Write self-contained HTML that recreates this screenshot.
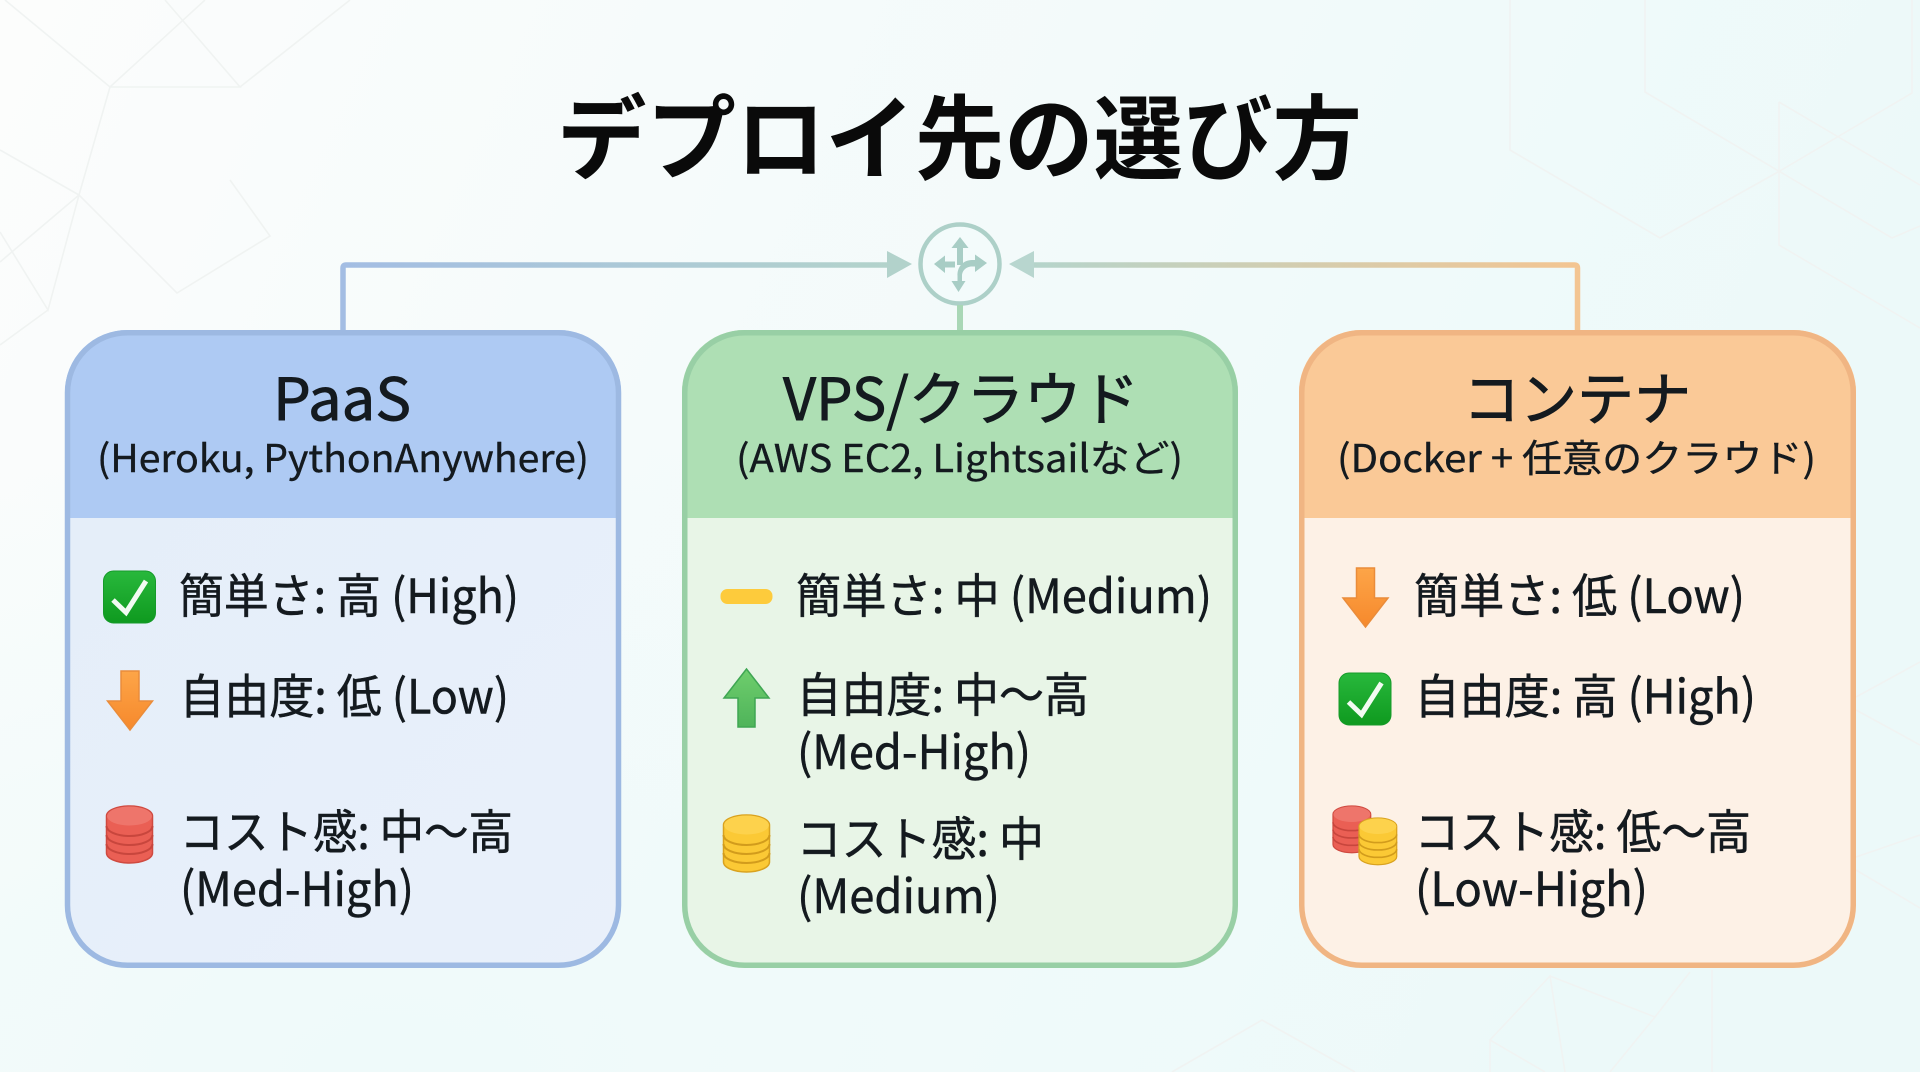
<!DOCTYPE html>
<html lang="ja"><head><meta charset="utf-8"><title>デプロイ先の選び方</title>
<style>
html,body{margin:0;padding:0;width:1920px;height:1072px;overflow:hidden;background:#f3fafa}
svg{display:block;position:absolute;left:0;top:0}
text{font-family:"Noto Sans CJK JP","Liberation Sans",sans-serif;fill:#141a1f}
.t{font-size:92px;font-weight:700;fill:#0a0a0a}
.h{font-size:58px;font-weight:400;stroke:#141a1f;stroke-width:.9}
.s{font-size:38px;stroke:#141a1f;stroke-width:.4}
.i{font-size:47px;stroke:#141a1f;stroke-width:.5}
</style></head><body>
<svg width="1920" height="1072" viewBox="0 0 1920 1072" xmlns="http://www.w3.org/2000/svg">
<defs>
<linearGradient id="bg" x1="0" y1="0" x2="1" y2="0.25"><stop offset="0" stop-color="#fcfdfc"/><stop offset=".35" stop-color="#f6fbfb"/><stop offset="1" stop-color="#ecf9f9"/></linearGradient>
<radialGradient id="bg2" cx="0.2" cy="1" r="0.6"><stop offset="0" stop-color="#eefafa" stop-opacity=".9"/><stop offset="1" stop-color="#eefafa" stop-opacity="0"/></radialGradient>
<linearGradient id="ln1" gradientUnits="userSpaceOnUse" x1="343" y1="0" x2="890" y2="0"><stop offset="0" stop-color="#a3bde3"/><stop offset="1" stop-color="#b3d3cb"/></linearGradient>
<linearGradient id="ln2" gradientUnits="userSpaceOnUse" x1="1577" y1="0" x2="1032" y2="0"><stop offset="0" stop-color="#f3c592"/><stop offset="1" stop-color="#b5d4cb"/></linearGradient>
<linearGradient id="ora" x1="0" y1="0" x2="0" y2="1"><stop offset="0" stop-color="#fda548"/><stop offset="1" stop-color="#f6892c"/></linearGradient>
<linearGradient id="grn" x1="0" y1="0" x2="0" y2="1"><stop offset="0" stop-color="#6fce6d"/><stop offset="1" stop-color="#4fb45a"/></linearGradient>
<linearGradient id="chk" x1="0" y1="0" x2="0" y2="1"><stop offset="0" stop-color="#28b83c"/><stop offset="1" stop-color="#0f9a1f"/></linearGradient>
<linearGradient id="bd1" x1="0" y1="0" x2="1" y2="1"><stop offset="0" stop-color="#e4eef9"/><stop offset="1" stop-color="#e9f0fa"/></linearGradient>
<clipPath id="c1"><rect x="65" y="330" width="556" height="638" rx="62"/></clipPath>
<clipPath id="c2"><rect x="682" y="330" width="556" height="638" rx="62"/></clipPath>
<clipPath id="c3"><rect x="1299" y="330" width="557" height="638" rx="62"/></clipPath>
<g id="check"><rect width="52" height="52" rx="10" fill="url(#chk)" stroke="#169a2a" stroke-width="1"/><path d="M9.5 29 L22.5 41.5 L42.5 10" fill="none" stroke="#f2fbf2" stroke-width="5"/></g>
<path id="dn" d="M14 0 H32 V30 H45.5 L23 59 L0.5 30 H14 Z" fill="url(#ora)" stroke="#ea8c3a" stroke-width="1.5"/>
<g id="redc"><path d="M0 10 A23 10 0 0 1 46 10 V47 A23 10 0 0 1 0 47 Z" fill="#ea5f54" stroke="#cf4a40" stroke-width="1.5"/><ellipse cx="23" cy="10" rx="22.5" ry="9.5" fill="#ee756b"/><path d="M0 20 A23 10 0 0 0 46 20 M0 29 A23 10 0 0 0 46 29 M0 38 A23 10 0 0 0 46 38" fill="none" stroke="#c8463d" stroke-width="2"/></g>
<g id="yelc"><path d="M0 10 A23 10 0 0 1 46 10 V47 A23 10 0 0 1 0 47 Z" fill="#fbc935" stroke="#d9a21f" stroke-width="1.5"/><ellipse cx="23" cy="10" rx="22.5" ry="9.5" fill="#fdd24c"/><path d="M0 20 A23 10 0 0 0 46 20 M0 29 A23 10 0 0 0 46 29 M0 38 A23 10 0 0 0 46 38" fill="none" stroke="#d29c1c" stroke-width="2"/></g>
</defs>
<rect width="1920" height="1072" fill="url(#bg)"/>
<rect width="1920" height="1072" fill="url(#bg2)"/>

<!-- background lines -->
<g fill="none" stroke="#f0f3f2" stroke-width="1.6">
<path d="M5 0 L110 87 L205 0 M165 0 L240 87 H110 M240 87 L350 0 M110 87 L79 195 L0 150 M79 195 L0 262 M79 195 L48 310 L0 232 M48 310 L0 345 M79 195 L177 293 L270 236 L230 180"/>
<path d="M1510 0 V150 L1660 238 L1778 172 L1912 93 V0 M1645 0 V92 L1892 238 L1920 226 M1779 102 L1920 185 M1779 102 V245 L1920 328"/>
<path d="M1856 697 L1920 662 M1856 710 L1920 745 M1856 857 L1920 835 M1856 870 L1920 908"/>
<path d="M1490 1072 V1040 L1550 976 L1565 1072 M1550 976 L1655 1017 M1690 972 L1655 1017 L1610 1072 M1490 1040 L1545 1072 M1712 970 V1072 M1172 1072 L1262 1020 L1355 1072"/>
</g>

<!-- title -->
<text class="t" x="557" y="172" textLength="805" lengthAdjust="spacingAndGlyphs">デプロイ先の選び方</text>

<!-- connectors -->
<path d="M343 331 V268 Q343 265 346 265 H890" fill="none" stroke="url(#ln1)" stroke-width="5.5"/>
<path d="M1577.5 331 V268 Q1577.5 265 1574.5 265 H1032" fill="none" stroke="url(#ln2)" stroke-width="5.5"/>
<path d="M912 264 L887 251 V278 Z" fill="#b2d2cb"/>
<path d="M1009 264 L1034 251 V278 Z" fill="#b8d6cf"/>
<circle cx="960" cy="264" r="39.5" fill="#f3fbfb" stroke="#add0c8" stroke-width="4.5"/>
<rect x="957" y="305" width="6" height="27" fill="#a9d7b6"/>
<g fill="#a8cdc5" stroke="none">
<path d="M960 237 L968.5 248 H963 V265 H957 V248 H951.5 Z"/>
<path d="M934 264 L945 255.5 V261.5 H955 V267.5 H945 V273 Z"/>
<path d="M987 263 L975 254.5 V260 H972 C963 260 957 267 957.5 276 L957.5 281 H951.5 L958.5 292 L965.5 281 H962 V276 C962 270 967 266.5 972 266.5 H975 V272 Z"/>
</g>

<!-- card 1 -->
<g clip-path="url(#c1)"><rect x="65" y="330" width="556" height="638" fill="url(#bd1)"/><rect x="65" y="330" width="556" height="188" fill="#aecaf3"/></g>
<rect x="67.5" y="332.75" width="551" height="632.5" rx="60" fill="none" stroke="#9db9e2" stroke-width="5.5"/>
<!-- card 2 -->
<g clip-path="url(#c2)"><rect x="682" y="330" width="556" height="638" fill="#e8f5e7"/><rect x="682" y="330" width="556" height="188" fill="#aedfb4"/></g>
<rect x="684.75" y="332.75" width="550.5" height="632.5" rx="60" fill="none" stroke="#98cfa5" stroke-width="5.5"/>
<!-- card 3 -->
<g clip-path="url(#c3)"><rect x="1299" y="330" width="557" height="638" fill="#fdf1e6"/><rect x="1299" y="330" width="557" height="188" fill="#fac997"/></g>
<rect x="1301.75" y="332.75" width="551.5" height="632.5" rx="60" fill="none" stroke="#f0b583" stroke-width="5.5"/>

<!-- headers -->
<text class="h" x="273" y="420" textLength="138" lengthAdjust="spacingAndGlyphs">PaaS</text>
<text class="s" x="97" y="472" textLength="492" lengthAdjust="spacingAndGlyphs">(Heroku, PythonAnywhere)</text>
<text class="h" x="783" y="420" textLength="356" lengthAdjust="spacingAndGlyphs">VPS/クラウド</text>
<text class="s" x="736" y="472" textLength="447" lengthAdjust="spacingAndGlyphs">(AWS EC2, Lightsailなど)</text>
<text class="h" x="1463" y="420" textLength="228" lengthAdjust="spacingAndGlyphs">コンテナ</text>
<text class="s" x="1337" y="472" textLength="479" lengthAdjust="spacingAndGlyphs">(Docker + 任意のクラウド)</text>

<!-- card 1 items -->
<use href="#check" x="103.5" y="571"/>
<text class="i" x="179" y="613" textLength="340" lengthAdjust="spacingAndGlyphs">簡単さ: 高 (High)</text>
<use href="#dn" x="107" y="671"/>
<text class="i" x="179.5" y="713.5" textLength="329.5" lengthAdjust="spacingAndGlyphs">自由度: 低 (Low)</text>
<use href="#redc" x="106.5" y="806"/>
<text class="i" x="179.5" y="849" textLength="333.5" lengthAdjust="spacingAndGlyphs">コスト感: 中～高</text>
<text class="i" x="180" y="906" textLength="234" lengthAdjust="spacingAndGlyphs">(Med-High)</text>

<!-- card 2 items -->
<rect x="720.5" y="589" width="52" height="15" rx="7" fill="#fdcb3c"/>
<text class="i" x="796" y="613" textLength="416" lengthAdjust="spacingAndGlyphs">簡単さ: 中 (Medium)</text>
<path d="M738 727 H755 V698 H769 L746.5 669 L724 698 H738 Z" fill="url(#grn)" stroke="#3fa653" stroke-width="1.5"/>
<text class="i" x="796.5" y="712" textLength="292.5" lengthAdjust="spacingAndGlyphs">自由度: 中～高</text>
<text class="i" x="797" y="769" textLength="234" lengthAdjust="spacingAndGlyphs">(Med-High)</text>
<use href="#yelc" x="723.5" y="815"/>
<text class="i" x="796.5" y="856" textLength="247.5" lengthAdjust="spacingAndGlyphs">コスト感: 中</text>
<text class="i" x="797" y="913" textLength="203" lengthAdjust="spacingAndGlyphs">(Medium)</text>

<!-- card 3 items -->
<use href="#dn" x="1342.5" y="568"/>
<text class="i" x="1414" y="613" textLength="331" lengthAdjust="spacingAndGlyphs">簡単さ: 低 (Low)</text>
<use href="#check" x="1339" y="673"/>
<text class="i" x="1414.5" y="713.5" textLength="341.5" lengthAdjust="spacingAndGlyphs">自由度: 高 (High)</text>
<use href="#redc" transform="translate(1333 806) scale(.82 .82)"/>
<use href="#yelc" transform="translate(1359 818) scale(.82 .82)"/>
<text class="i" x="1414.5" y="849" textLength="336.5" lengthAdjust="spacingAndGlyphs">コスト感: 低～高</text>
<text class="i" x="1415" y="906" textLength="233" lengthAdjust="spacingAndGlyphs">(Low-High)</text>
</svg>
</body></html>
